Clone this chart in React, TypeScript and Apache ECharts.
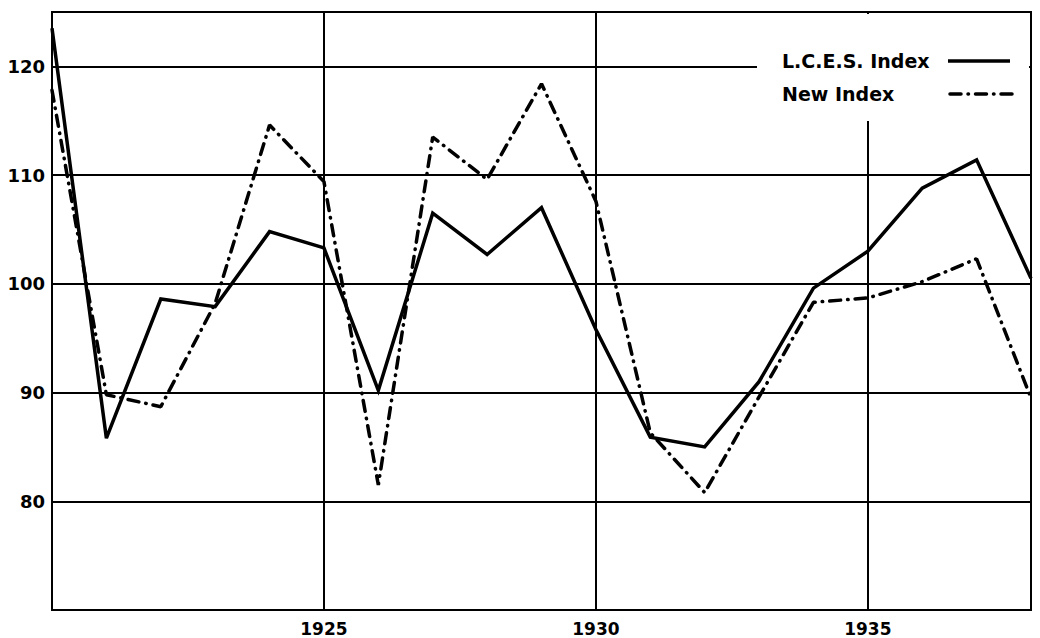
import React, { useEffect, useRef } from "react";
import * as echarts from "echarts";

const years = [1920, 1921, 1922, 1923, 1924, 1925, 1926, 1927, 1928, 1929, 1930, 1931, 1932, 1933, 1934, 1935, 1936, 1937, 1938];
const lcesIndex = [123.5, 85.8, 98.6, 97.9, 104.8, 103.3, 90.2, 106.5, 102.7, 107.0, 95.8, 85.9, 85.0, 91.0, 99.6, 103.0, 108.8, 111.4, 100.5];
const newIndex = [117.8, 89.8, 88.7, 98.2, 114.6, 109.4, 81.5, 113.5, 109.6, 118.4, 107.6, 86.3, 80.8, 89.6, 98.3, 98.7, 100.2, 102.3, 89.5];
const xTickLabels = [1925, 1930, 1935];
const yTickLabels = [80, 90, 100, 110, 120];
const seriesNames = ["L.C.E.S. Index", "New Index"];

const FONT = "DejaVu Sans";
const DASH_DOT = [11, 7, 0.5, 7];

export default function App() {
  const ref = useRef<HTMLDivElement>(null);

  useEffect(() => {
    document.body.style.margin = "0";
    if (!ref.current) return;
    const chart = echarts.init(ref.current, undefined, { renderer: "svg" });
    const lcesData = years.map((y, i) => [y, lcesIndex[i]]);
    const newData = years.map((y, i) => [y, newIndex[i]]);

    chart.setOption({
      animation: false,
      backgroundColor: "#ffffff",
      grid: {
        left: 52,
        right: 9,
        top: 12,
        bottom: 28,
        show: true,
        borderColor: "#000",
        borderWidth: 2,
        backgroundColor: "transparent",
      },
      xAxis: {
        type: "value",
        min: 1920,
        max: 1938,
        interval: 5,
        axisLine: { show: false },
        axisTick: { show: false },
        splitLine: { show: true, lineStyle: { color: "#000", width: 2 } },
        axisLabel: {
          color: "#000",
          fontFamily: FONT,
          fontWeight: "bold",
          fontSize: 17,
          margin: 10,
          formatter: (v: number) => (xTickLabels.includes(v) ? String(v) : ""),
        },
      },
      yAxis: {
        type: "value",
        min: 70,
        max: 125,
        interval: 10,
        axisLine: { show: false },
        axisTick: { show: false },
        splitLine: { show: true, lineStyle: { color: "#000", width: 2 } },
        axisLabel: {
          color: "#000",
          fontFamily: FONT,
          fontWeight: "bold",
          fontSize: 18,
          margin: 7,
          formatter: (v: number) => (yTickLabels.includes(v) ? String(v) : ""),
        },
      },
      series: [
        {
          name: seriesNames[0],
          type: "line",
          data: lcesData,
          symbol: "none",
          z: 5,
          lineStyle: { color: "#000", width: 3.5, type: "solid", join: "miter" },
        },
        {
          name: seriesNames[1],
          type: "line",
          data: newData,
          symbol: "none",
          z: 5,
          lineStyle: { color: "#000", width: 3.5, type: DASH_DOT, cap: "round" },
        },
      ],
      graphic: [
        {
          type: "rect",
          z: 10,
          shape: { x: 757, y: 14, width: 272, height: 107 },
          style: { fill: "#fff" },
        },
        {
          type: "text",
          z: 11,
          x: 782,
          y: 61,
          style: {
            text: seriesNames[0],
            fill: "#000",
            font: `bold 19px "${FONT}"`,
            textVerticalAlign: "middle",
            verticalAlign: "middle",
          },
        },
        {
          type: "text",
          z: 11,
          x: 782,
          y: 94,
          style: {
            text: seriesNames[1],
            fill: "#000",
            font: `bold 19px "${FONT}"`,
            textVerticalAlign: "middle",
            verticalAlign: "middle",
          },
        },
        {
          type: "line",
          z: 11,
          shape: { x1: 948, y1: 61, x2: 1010, y2: 61 },
          style: { stroke: "#000", lineWidth: 3.5 },
        },
        {
          type: "line",
          z: 11,
          shape: { x1: 950, y1: 94, x2: 1012, y2: 94 },
          style: { stroke: "#000", lineWidth: 3.5, lineDash: DASH_DOT, lineCap: "round" },
        },
      ],
    });

    return () => chart.dispose();
  }, []);

  return <div ref={ref} style={{ width: 1040, height: 638 }} />;
}
